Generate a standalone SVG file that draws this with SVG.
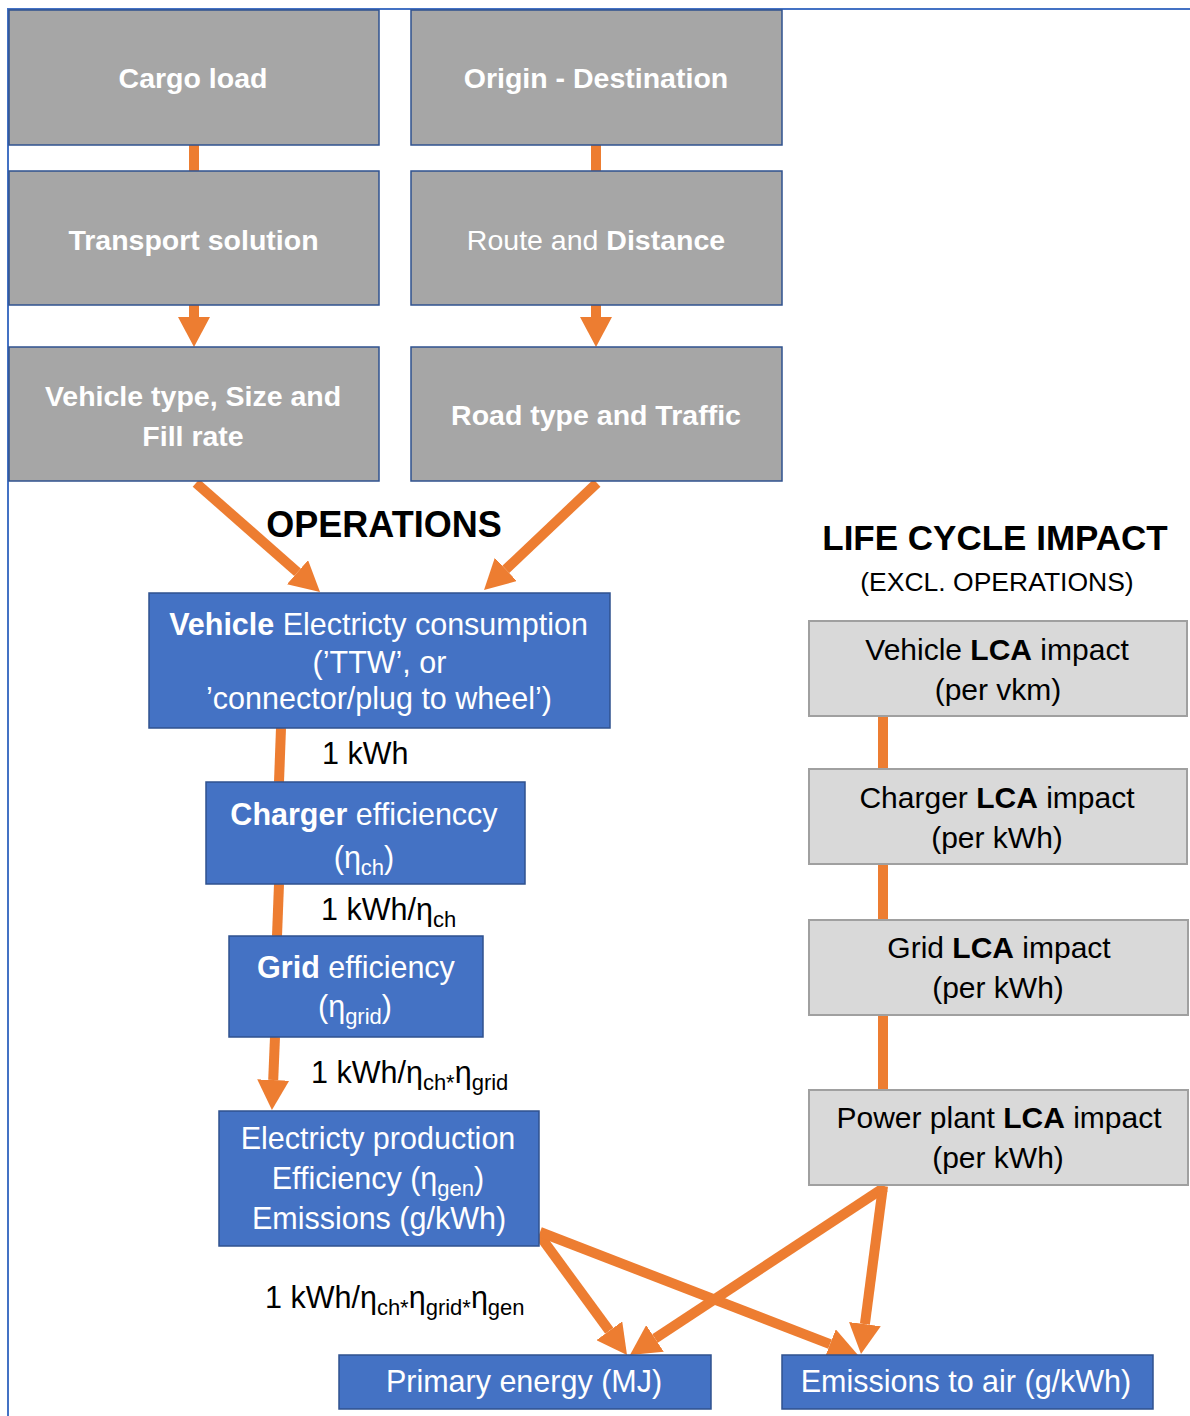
<svg xmlns="http://www.w3.org/2000/svg" width="1190" height="1416" viewBox="0 0 1190 1416">
<style>
text{font-family:"Liberation Sans",Arial,sans-serif}
.gb{fill:#A6A6A6;stroke:#2F528F;stroke-width:1.5}
.bb{fill:#4472C4;stroke:#2F528F;stroke-width:1.5}
.lb{fill:#D9D9D9;stroke:#A0A0A0;stroke-width:2}
.tw{fill:#fff;font-size:28.5px;font-weight:bold;text-anchor:middle}
.tb{fill:#fff;font-size:30.5px;text-anchor:middle}
.tl{fill:#000;font-size:30px;text-anchor:middle}
.lab{fill:#000;font-size:30.5px}
.b{font-weight:bold}
.s{font-size:22px}
.c{fill:none;stroke:#ED7D31;stroke-width:10}
.frame{fill:none;stroke:#4472C4;stroke-width:2}
</style>
<defs>
<marker id="ah" markerUnits="userSpaceOnUse" markerWidth="30" markerHeight="32" viewBox="0 0 30 32" refX="0" refY="16" orient="auto">
<path d="M0,0 L30,16 L0,32 z" fill="#ED7D31"/>
</marker>
</defs>
<path class="frame" d="M1190,9 H8 V1416"/>
<g id="connectors">
<line class="c" x1="194" y1="145" x2="194" y2="171"/>
<line class="c" x1="596" y1="145" x2="596" y2="171"/>
<line class="c" x1="194" y1="305" x2="194" y2="317" marker-end="url(#ah)"/>
<line class="c" x1="596" y1="305" x2="596" y2="317" marker-end="url(#ah)"/>
<line class="c" x1="196" y1="483" x2="297.5" y2="572.2" marker-end="url(#ah)"/>
<line class="c" x1="597" y1="483" x2="505.8" y2="569.4" marker-end="url(#ah)"/>
<line class="c" x1="281" y1="728" x2="279" y2="782"/>
<line class="c" x1="279" y1="884" x2="277" y2="936"/>
<line class="c" x1="275" y1="1037" x2="273.2" y2="1080" marker-end="url(#ah)"/>
<line class="c" x1="540" y1="1236" x2="609.3" y2="1330.8" marker-end="url(#ah)"/>
<line class="c" x1="540" y1="1232" x2="830" y2="1344.2" marker-end="url(#ah)"/>
<line class="c" x1="885" y1="1187" x2="655" y2="1338.5" marker-end="url(#ah)"/>
<line class="c" x1="883" y1="1186" x2="864.9" y2="1324.2" marker-end="url(#ah)"/>
<line class="c" x1="883" y1="716" x2="883" y2="769"/>
<line class="c" x1="883" y1="864" x2="883" y2="920"/>
<line class="c" x1="883" y1="1015" x2="883" y2="1090"/>
</g>
<g id="cargo-load">
<rect class="gb" x="9" y="10" width="370" height="135"/>
<text class="tw" x="193" y="88">Cargo load</text>
</g>
<g id="origin-destination">
<rect class="gb" x="411" y="10" width="371" height="135"/>
<text class="tw" x="596" y="88">Origin - Destination</text>
</g>
<g id="transport-solution">
<rect class="gb" x="9" y="171" width="370" height="134"/>
<text class="tw" x="193.5" y="250">Transport solution</text>
</g>
<g id="route-distance">
<rect class="gb" x="411" y="171" width="371" height="134"/>
<text class="tw" x="596" y="250"><tspan font-weight="normal">Route and </tspan>Distance</text>
</g>
<g id="vehicle-type">
<rect class="gb" x="9" y="347" width="370" height="134"/>
<text class="tw" x="193" y="406">Vehicle type, Size and</text>
<text class="tw" x="193" y="446">Fill rate</text>
</g>
<g id="road-type">
<rect class="gb" x="411" y="347" width="371" height="134"/>
<text class="tw" x="596" y="425">Road type and Traffic</text>
</g>
<g id="operations-title">
<text x="384" y="537" font-size="36" font-weight="bold" text-anchor="middle" fill="#000">OPERATIONS</text>
</g>
<g id="lca-title">
<text x="995" y="550" font-size="35" font-weight="bold" text-anchor="middle" fill="#000">LIFE CYCLE IMPACT</text>
<text x="997" y="591" font-size="26.5" text-anchor="middle" fill="#000">(EXCL. OPERATIONS)</text>
</g>
<g id="vehicle-consumption">
<rect class="bb" x="149" y="593" width="461" height="135"/>
<text class="tb" x="378.5" y="635"><tspan class="b">Vehicle</tspan> Electricty consumption</text>
<text class="tb" x="379.5" y="673">(’TTW’, or</text>
<text class="tb" x="379" y="709">’connector/plug to wheel’)</text>
</g>
<g id="charger-efficiency">
<rect class="bb" x="206" y="782" width="319" height="102"/>
<text class="tb" x="364" y="825"><tspan class="b">Charger</tspan> efficienccy</text>
<text class="tb" x="364" y="868">(η<tspan class="s" dy="7">ch</tspan><tspan dy="-7">)</tspan></text>
</g>
<g id="grid-efficiency">
<rect class="bb" x="229" y="936" width="254" height="101"/>
<text class="tb" x="356" y="978"><tspan class="b">Grid</tspan> efficiency</text>
<text class="tb" x="355" y="1017">(η<tspan class="s" dy="7">grid</tspan><tspan dy="-7">)</tspan></text>
</g>
<g id="electricity-production">
<rect class="bb" x="219" y="1111" width="320" height="135"/>
<text class="tb" x="378" y="1149">Electricty production</text>
<text class="tb" x="378" y="1189">Efficiency (η<tspan class="s" dy="7">gen</tspan><tspan dy="-7">)</tspan></text>
<text class="tb" x="379" y="1229">Emissions (g/kWh)</text>
</g>
<g id="primary-energy">
<rect class="bb" x="339" y="1355" width="372" height="54"/>
<text class="tb" x="524" y="1392">Primary energy (MJ)</text>
</g>
<g id="emissions-air">
<rect class="bb" x="782" y="1355" width="371" height="54"/>
<text class="tb" x="966" y="1392">Emissions to air (g/kWh)</text>
</g>
<g id="vehicle-lca">
<rect class="lb" x="809" y="621" width="378" height="95"/>
<text class="tl" x="997" y="660">Vehicle <tspan class="b">LCA</tspan> impact</text>
<text class="tl" x="998" y="700">(per vkm)</text>
</g>
<g id="charger-lca">
<rect class="lb" x="809" y="769" width="378" height="95"/>
<text class="tl" x="997" y="808">Charger <tspan class="b">LCA</tspan> impact</text>
<text class="tl" x="997" y="848">(per kWh)</text>
</g>
<g id="grid-lca">
<rect class="lb" x="809" y="920" width="379" height="95"/>
<text class="tl" x="999" y="958">Grid <tspan class="b">LCA</tspan> impact</text>
<text class="tl" x="998" y="998">(per kWh)</text>
</g>
<g id="powerplant-lca">
<rect class="lb" x="809" y="1090" width="379" height="95"/>
<text class="tl" x="999" y="1128">Power plant <tspan class="b">LCA</tspan> impact</text>
<text class="tl" x="998" y="1168">(per kWh)</text>
</g>
<g id="labels">
<text class="lab" x="322" y="764">1 kWh</text>
<text class="lab" x="321" y="920">1 kWh/η<tspan class="s" dy="7">ch</tspan></text>
<text class="lab" x="311" y="1083">1 kWh/η<tspan class="s" dy="7">ch*</tspan><tspan dy="-7">η</tspan><tspan class="s" dy="7">grid</tspan></text>
<text class="lab" x="265" y="1308">1 kWh/η<tspan class="s" dy="7">ch*</tspan><tspan dy="-7">η</tspan><tspan class="s" dy="7">grid*</tspan><tspan dy="-7">η</tspan><tspan class="s" dy="7">gen</tspan></text>
</g>
</svg>
